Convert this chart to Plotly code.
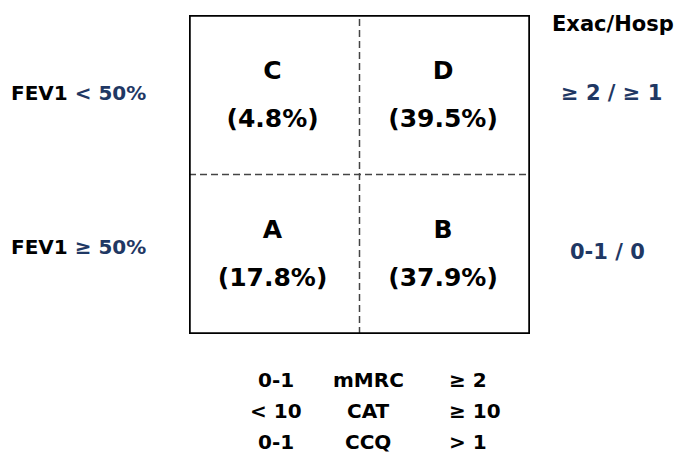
import plotly.graph_objects as go

# ---- data ----
groups = ["C", "D", "A", "B"]
shares = [4.8, 39.5, 17.8, 37.9]
group_col = [0, 1, 0, 1]   # 0 = low symptoms, 1 = high symptoms
group_row = [1, 1, 0, 0]   # 1 = high risk, 0 = low risk

risk_left = [("FEV1", " < 50%"), ("FEV1", " ≥ 50%")]
risk_right = ["≥ 2 / ≥ 1", "0-1 / 0"]
risk_title = "Exac/Hosp"
sym_low = ["0-1", "< 10", "0-1"]
sym_name = ["mMRC", "CAT", "CCQ"]
sym_high = ["≥ 2", "≥ 10", "> 1"]

NAVY = "#1F3864"
FONT = "DejaVu Sans"
W, H = 685, 468
L, R, T, B = 189, 530, 15, 334

fig = go.Figure()

xs = [c + 0.49 for c in group_col]
fig.add_trace(go.Scatter(
    x=xs, y=[r + 0.64 for r in group_row], mode="text", text=groups,
    textfont=dict(family=FONT, size=25, color="black", weight="bold"),
    hoverinfo="skip", showlegend=False, cliponaxis=False))
fig.add_trace(go.Scatter(
    x=xs, y=[r + 0.338 for r in group_row], mode="text",
    text=[f"({s:.1f}%)" for s in shares],
    textfont=dict(family=FONT, size=25, color="black", weight="bold"),
    hoverinfo="skip", showlegend=False, cliponaxis=False))

# dashed dividers
fig.add_shape(type="line", x0=1, x1=1, y0=0, y1=2, xref="x", yref="y",
              line=dict(color="#444444", width=1.5, dash="7px,4px"))
fig.add_shape(type="line", x0=0, x1=2, y0=1, y1=1, xref="x", yref="y",
              line=dict(color="#444444", width=1.5, dash="7px,4px"))
# outer box
fig.add_shape(type="rect", x0=0, x1=2, y0=0, y1=2, xref="x", yref="y",
              line=dict(color="black", width=3.5))

def px(x):
    return (x - L) / (R - L)

def py(y):
    return (B - y) / (B - T)

ann = []
for i, (a, b) in enumerate(risk_left):
    yy = [93, 247][i]
    ann.append(dict(x=px(9), y=py(yy), xref="paper", yref="paper",
                    xanchor="left", yanchor="middle", showarrow=False,
                    text=f"{a}<span style='color:{NAVY}'>{b}</span>",
                    font=dict(family=FONT, size=20, color="black", weight="bold")))
for i, t in enumerate(risk_right):
    yy = [93, 252][i]
    ann.append(dict(x=px([611, 607][i]), y=py(yy), xref="paper", yref="paper",
                    xanchor="center", yanchor="middle", showarrow=False, text=t,
                    font=dict(family=FONT, size=21, color=NAVY, weight="bold")))
ann.append(dict(x=px(613), y=py(24), xref="paper", yref="paper",
                xanchor="center", yanchor="middle", showarrow=False, text=risk_title,
                font=dict(family=FONT, size=21, color="black", weight="bold")))
rows_y = [380, 411, 442]
for i in range(3):
    ann.append(dict(x=px(276), y=py(rows_y[i]), xref="paper", yref="paper",
                    xanchor="center", yanchor="middle", showarrow=False, text=sym_low[i],
                    font=dict(family=FONT, size=20, color="black", weight="bold")))
    ann.append(dict(x=px(368), y=py(rows_y[i]), xref="paper", yref="paper",
                    xanchor="center", yanchor="middle", showarrow=False, text=sym_name[i],
                    font=dict(family=FONT, size=20, color="black", weight="bold")))
    ann.append(dict(x=px(447), y=py(rows_y[i]), xref="paper", yref="paper",
                    xanchor="left", yanchor="middle", showarrow=False, text=sym_high[i],
                    font=dict(family=FONT, size=20, color="black", weight="bold")))

fig.update_layout(
    width=W, height=H,
    margin=dict(l=L, r=W - R, t=T, b=H - B),
    paper_bgcolor="white", plot_bgcolor="white",
    xaxis=dict(range=[0, 2], visible=False, fixedrange=True),
    yaxis=dict(range=[0, 2], visible=False, fixedrange=True),
    annotations=ann,
)

fig.write_html("out.html", config={"displayModeBar": False},
               post_script="document.body.style.margin='0';document.body.style.overflow='hidden';")
